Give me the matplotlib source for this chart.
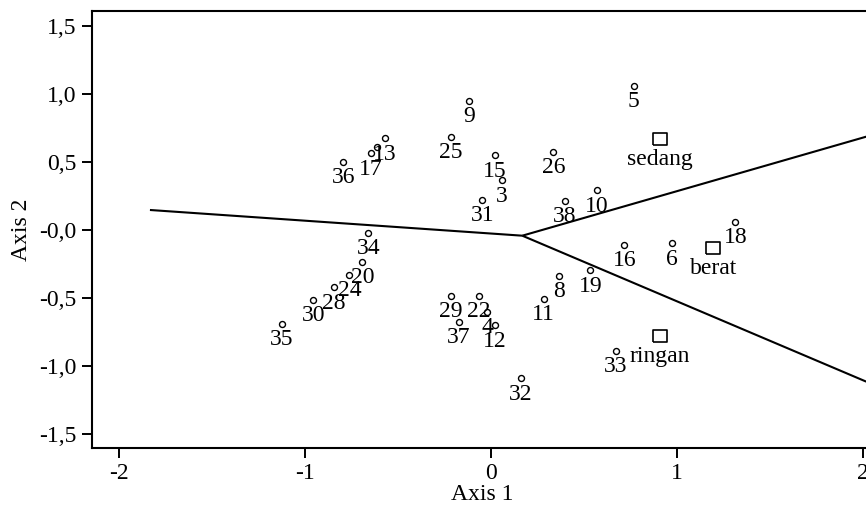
import numpy as np
import matplotlib
matplotlib.use("Agg")
import matplotlib.pyplot as plt
from matplotlib.ticker import FuncFormatter

# case scores (function 1, function 2); '' = label hidden under neighbours
case_ids = ["9", "25", "13", "", "17", "36", "15", "3", "31", "26", "5", "38",
            "10", "34", "20", "24", "28", "30", "35", "29", "37", "22", "4",
            "12", "32", "11", "8", "19", "16", "6", "18", "33"]
case_x = [-0.116, -0.214, -0.569, -0.610, -0.642, -0.791, 0.024, 0.060, -0.044,
          0.338, 0.770, 0.401, 0.571, -0.657, -0.689, -0.759, -0.841, -0.953,
          -1.123, -0.214, -0.171, -0.062, -0.019, 0.024, 0.162, 0.286, 0.368,
          0.537, 0.719, 0.974, 1.316, 0.673]
case_y = [0.949, 0.686, 0.674, 0.613, 0.564, 0.500, 0.551, 0.365, 0.221,
          0.576, 1.059, 0.216, 0.292, -0.020, -0.233, -0.331, -0.421, -0.513,
          -0.691, -0.485, -0.676, -0.485, -0.601, -0.701, -1.091, -0.507, -0.336,
          -0.297, -0.108, -0.096, 0.061, -0.890]

# group centroids
groups = ["sedang", "berat", "ringan"]
group_x = [0.911, 1.198, 0.911]
group_y = [0.669, -0.130, -0.779]

# territory boundaries: vertex and the three far ends
vertex = (0.171, -0.042)
bound_x = [-1.831, 2.02, 2.02]
bound_y = [0.147, 0.686, -1.115]

plt.rcParams['font.family'] = ['Liberation Serif', 'DejaVu Serif']
plt.rcParams['font.size'] = 17
plt.rcParams['axes.unicode_minus'] = False

fig = plt.figure(figsize=(8.66, 5.14), dpi=100)
ax = fig.add_axes([92 / 866, 66 / 514, (871.8 - 92) / 866, 437 / 514])

for bx, by in zip(bound_x, bound_y):
    ax.plot([vertex[0], bx], [vertex[1], by], color="black", lw=1.5,
            solid_capstyle="butt", zorder=2)

ax.plot(case_x, case_y, linestyle="none", marker="o", ms=4.3, mfc="white",
        mec="black", mew=1.0, zorder=3)
for lab, x, y in zip(case_ids, case_x, case_y):
    if lab:
        ax.annotate(lab, (x, y), xytext=(0, -11.5), textcoords="offset points",
                    ha="center", va="center", fontsize=17, zorder=4)

rect = [(-1.2, -1), (1.2, -1), (1.2, 1), (-1.2, 1), (-1.2, -1)]
ax.plot(group_x, group_y, linestyle="none", marker=rect, ms=10.5, mfc="white",
        mec="black", mew=1.2, zorder=3)
for lab, x, y in zip(groups, group_x, group_y):
    ax.annotate(lab, (x, y), xytext=(0, -15), textcoords="offset points",
                ha="center", va="center", fontsize=17, zorder=4)

ax.set_xlim(-2.1425, 2.05)
ax.set_ylim(-1.603, 1.610)
ax.set_xticks([-2, -1, 0, 1, 2])
ax.set_yticks([-1.5, -1.0, -0.5, 0.0, 0.5, 1.0, 1.5])
ax.yaxis.set_major_formatter(FuncFormatter(
    lambda v, p: ("-" if v <= 0 else "") + f"{abs(v):.1f}".replace(".", ",")))
ax.tick_params(direction="out", length=7, width=1.4, pad=4, labelsize=17)
for s in ax.spines.values():
    s.set_linewidth(1.5)

ax.set_xlabel("Axis 1", fontsize=17, labelpad=0)
ax.set_ylabel("Axis 2", fontsize=17, labelpad=5)

fig.savefig("out.png", dpi=100)
